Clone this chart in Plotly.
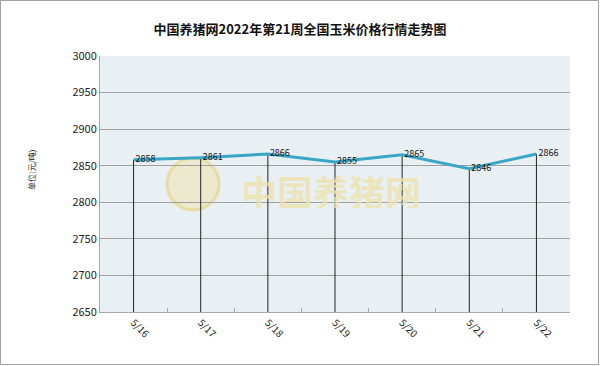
import plotly.graph_objects as go

dates = ["5/16", "5/17", "5/18", "5/19", "5/20", "5/21", "5/22"]
prices = [2858, 2861, 2866, 2855, 2865, 2846, 2866]
y_ticks = [2650, 2700, 2750, 2800, 2850, 2900, 2950, 3000]
title = "中国养猪网2022年第21周全国玉米价格行情走势图"
y_title = "单位(元/吨)"
watermark = "中国养猪网"

W, H = 600, 366
L, R, T, B = 100, 30, 56, 54
FONT = "Noto Sans CJK SC"

fig = go.Figure()

pw = W - L - R
ph = H - T - B

# watermark (drawn below the data)
fig.add_shape(type="circle", xref="paper", yref="paper",
              x0=(167 - L) / pw, x1=(219 - L) / pw,
              y0=1 - (210 - T) / ph, y1=1 - (158 - T) / ph,
              fillcolor="rgba(240,228,175,0.55)", line=dict(color="rgba(228,218,150,0.8)", width=3),
              layer="below")
fig.add_annotation(text="<b>" + watermark + "</b>", xref="paper", yref="paper",
                   x=(331 - L) / pw, y=1 - (191 - T) / ph, showarrow=False,
                   xanchor="center", yanchor="middle",
                   height=34, valign="middle",
                   font=dict(family=FONT, size=36, color="rgba(238,226,170,0.75)"))

# drop lines from each point down to the axis
dx, dy = [], []
for d, p in zip(dates, prices):
    dx += [d, d, None]
    dy += [y_ticks[0], p, None]
fig.add_trace(go.Scatter(x=dx, y=dy, mode="lines",
                         line=dict(color="#222222", width=1),
                         hoverinfo="skip", showlegend=False))

fig.add_trace(go.Scatter(
    x=dates, y=prices, mode="lines+text",
    line=dict(color="#3AA6C6", width=3),
    text=["\u00a0" + str(p) for p in prices], textposition="middle right",
    textfont=dict(family=FONT, size=9, color="#111111"),
    showlegend=False))

fig.update_layout(
    width=W, height=H,
    margin=dict(l=L, r=R, t=T, b=B),
    paper_bgcolor="white", plot_bgcolor="#E9F0F4",
    title=dict(text="<b>" + title + "</b>", x=0.5, xanchor="center",
               y=1 - 29 / H, yanchor="middle",
               font=dict(family=FONT, size=13, color="#111111")),
    xaxis=dict(type="category", range=[-0.5, len(dates) - 0.5],
               showgrid=False, showline=True, linecolor="#A8A8A8", linewidth=1,
               ticks="inside", tickson="boundaries", ticklen=4, tickcolor="#A8A8A8",
               tickangle=45, tickfont=dict(family=FONT, size=10, color="#222222")),
    yaxis=dict(range=[y_ticks[0], y_ticks[-1]], tickvals=y_ticks,
               showgrid=True, gridcolor="#A0A0A0", gridwidth=1,
               showline=True, linecolor="#A8A8A8", linewidth=1,
               zeroline=False, ticks="",
               tickfont=dict(family=FONT, size=11, color="#222222")),
)

# outer border
fig.add_shape(type="rect", xref="paper", yref="paper",
              x0=(0.5 - L) / pw, x1=(W - 1.5 - L) / pw,
              y0=1 - (H - 1.5 - T) / ph, y1=1 - (0.5 - T) / ph,
              line=dict(color="#A0A0A0", width=1))

# y title
fig.add_annotation(text=y_title, xref="paper", yref="paper",
                   x=(31 - L) / pw, y=1 - (170 - T) / ph, showarrow=False,
                   xanchor="center", yanchor="middle",
                   textangle=-90, font=dict(family=FONT, size=8, color="#222222"))

fig.write_html("out.html")
